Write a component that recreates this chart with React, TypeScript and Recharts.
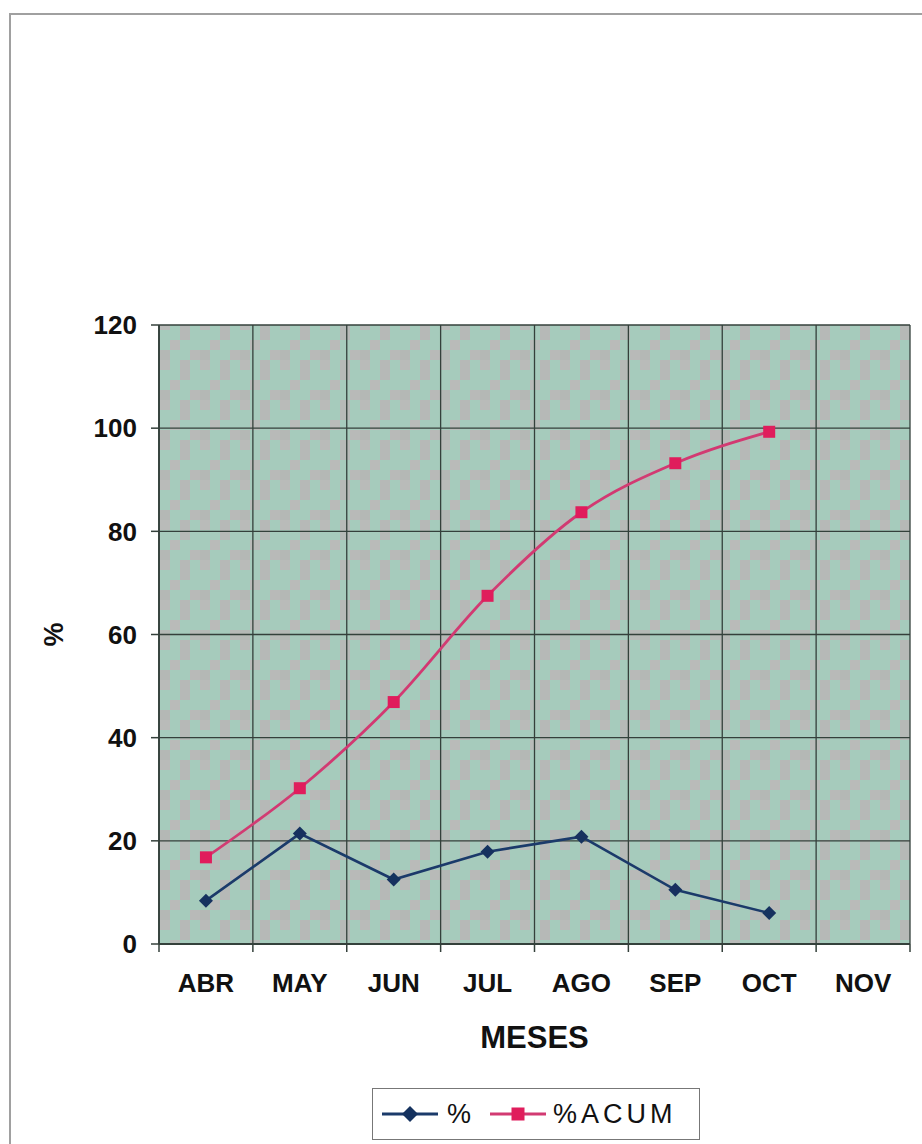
import React from "react";
import { LineChart, Line, XAxis, YAxis, CartesianGrid, Legend } from "recharts";

// values
const months = ["ABR", "MAY", "JUN", "JUL", "AGO", "SEP", "OCT", "NOV"];
const pct = [8.4, 21.4, 12.5, 17.9, 20.8, 10.5, 6.0, null];
const pctAcum = [16.8, 30.2, 46.9, 67.5, 83.7, 93.2, 99.3, null];
const yTicks = [0, 20, 40, 60, 80, 100, 120];

const data = months.map((mes, i) => ({ mes, pct: pct[i], acum: pctAcum[i] }));

const font = "'Liberation Sans', Arial, sans-serif";
const BLUE = "#1b3a6a";
const PINK = "#d23a72";
const GRID = "#34403b";

const Diamond = ({ cx, cy, r = 7, fill = "#15325f" }: any) => {
  if (cx == null || cy == null) return <g />;
  return (
    <polygon
      points={`${cx},${cy - r} ${cx + r},${cy} ${cx},${cy + r} ${cx - r},${cy}`}
      fill={fill}
    />
  );
};

const Square = ({ cx, cy, s = 12, fill = "#e01d5c" }: any) => {
  if (cx == null || cy == null) return <g />;
  return <rect x={cx - s / 2} y={cy - s / 2} width={s} height={s} fill={fill} />;
};

// month labels centred in each band, tick marks on band edges
const MonthTick = (props: any) => {
  const { x, y, payload, width, visibleTicksCount, index } = props;
  const band = width / visibleTicksCount;
  return (
    <g>
      <line x1={x - band / 2} x2={x - band / 2} y1={y} y2={y + 8} stroke={GRID} strokeWidth={1.5} />
      {index === visibleTicksCount - 1 && (
        <line x1={x + band / 2} x2={x + band / 2} y1={y} y2={y + 8} stroke={GRID} strokeWidth={1.5} />
      )}
      <text
        x={x}
        y={y + 48}
        textAnchor="middle"
        fontFamily={font}
        fontWeight="bold"
        fontSize={26}
        fill="#111"
      >
        {payload.value}
      </text>
    </g>
  );
};

const LegendBox = (props: any) => {
  const items = props.payload || [];
  return (
    <div
      style={{
        width: 328,
        height: 52,
        boxSizing: "border-box",
        border: "1.5px solid #777",
        position: "relative",
        fontFamily: font,
        fontSize: 27,
        color: "#111",
      }}
    >
      {items.map((it: any, i: number) => {
        const isAcum = it.dataKey === "acum";
        const left = i === 0 ? 9 : 117;
        return (
          <div key={it.value} style={{ position: "absolute", left, top: 0, height: 50, display: "flex", alignItems: "center" }}>
            <svg width={56} height={20} style={{ overflow: "visible" }}>
              <line x1={0} x2={56} y1={10} y2={10} stroke={it.color} strokeWidth={3} />
              {isAcum ? <Square cx={28} cy={10} s={13} /> : <Diamond cx={28} cy={10} r={8} />}
            </svg>
            <span style={{ marginLeft: i === 0 ? 9 : 7, letterSpacing: isAcum ? 4 : 0 }}>{it.value}</span>
          </div>
        );
      })}
    </div>
  );
};

export default function App() {
  return (
    <div style={{ position: "absolute", left: 0, top: 0, width: 922, height: 1144, background: "#fff" }}>
      <div
        style={{
          position: "absolute",
          left: 9,
          top: 13,
          width: 913,
          height: 1131,
          borderLeft: "2px solid #a0a0a0",
          borderTop: "2px solid #a0a0a0",
        }}
      />
      <LineChart
        width={922}
        height={1144}
        data={data}
        margin={{ top: 325, right: 12, left: 0, bottom: 0 }}
        style={{ position: "absolute", left: 0, top: 0 }}
      >
        <defs>
          <pattern id="tex" width="40" height="40" patternUnits="userSpaceOnUse">
            <rect width="40" height="40" fill="#a6cbbc" />
            <rect x="0" y="0" width="10" height="10" fill="#b9bbb9" />
            <rect x="20" y="0" width="10" height="20" fill="#b6b9b7" />
            <rect x="10" y="20" width="10" height="10" fill="#b9bbb9" />
            <rect x="30" y="30" width="10" height="10" fill="#b8bab8" />
            <rect x="0" y="30" width="10" height="10" fill="#b4b8b5" />
          </pattern>
        </defs>
        <CartesianGrid
          fill="url(#tex)"
          fillOpacity={1}
          stroke={GRID}
          strokeWidth={1.3}
          verticalCoordinatesGenerator={({ offset }: any) =>
            months.map((_, i) => offset.left + (i * offset.width) / months.length).concat(offset.left + offset.width)
          }
        />
        <XAxis
          dataKey="mes"
          scale="band"
          height={200}
          tickSize={0}
          tickMargin={0}
          tickLine={false}
          axisLine={{ stroke: GRID, strokeWidth: 1.8 }}
          tick={<MonthTick />}
          interval={0}
          label={{
            content: ({ viewBox }: any) => (
              <text
                x={viewBox.x + viewBox.width / 2}
                y={viewBox.y + 104}
                textAnchor="middle"
                fontFamily={font}
                fontWeight="bold"
                fontSize={31}
                fill="#111"
              >
                MESES
              </text>
            ),
          }}
        />
        <YAxis
          width={159}
          domain={[0, 120]}
          ticks={yTicks}
          interval={0}
          tickSize={8}
          tickMargin={14}
          tickLine={{ stroke: GRID, strokeWidth: 1.5 }}
          axisLine={{ stroke: GRID, strokeWidth: 1.8 }}
          tick={{ fontFamily: font, fontWeight: "bold", fontSize: 26, fill: "#111" }}
          label={{
            content: ({ viewBox }: any) => {
              const cx = viewBox.x + 54;
              const cy = viewBox.y + viewBox.height / 2;
              return (
                <text
                  x={cx}
                  y={cy}
                  transform={`rotate(-90 ${cx} ${cy})`}
                  textAnchor="middle"
                  dominantBaseline="central"
                  fontFamily={font}
                  fontWeight="bold"
                  fontSize={27}
                  fill="#111"
                >
                  %
                </text>
              );
            },
          }}
        />
        <Line
          dataKey="pct"
          name="%"
          type="linear"
          stroke={BLUE}
          strokeWidth={2.6}
          dot={(p: any) => <Diamond key={`d${p.index}`} cx={p.cx} cy={p.cy} r={7} />}
          activeDot={false}
          isAnimationActive={false}
        />
        <Line
          dataKey="acum"
          name="%ACUM"
          type="monotone"
          stroke={PINK}
          strokeWidth={2.8}
          dot={(p: any) => <Square key={`s${p.index}`} cx={p.cx} cy={p.cy} s={12} />}
          activeDot={false}
          isAnimationActive={false}
        />
        <Legend
          layout="horizontal"
          verticalAlign="middle"
          align="center"
          content={<LegendBox />}
          wrapperStyle={{ left: 372, top: 1088, width: 328, height: 52 }}
        />
      </LineChart>
    </div>
  );
}
